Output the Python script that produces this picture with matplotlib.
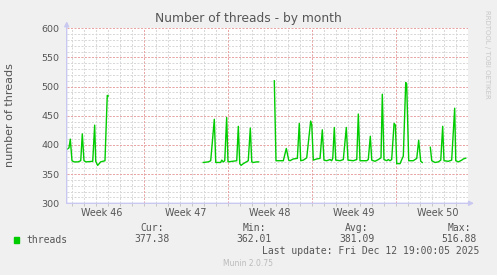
import numpy as np
import matplotlib.pyplot as plt
from matplotlib.ticker import MultipleLocator

title = "Number of threads - by month"
ylabel = "number of threads"
week_labels = ["Week 46", "Week 47", "Week 48", "Week 49", "Week 50"]
first_week = 6.44      # day of the first week boundary (from left edge)
span_days = 33.44

nan = np.nan
# days since left edge of the graph, nan breaks the line (no data)
days = [0.05, 0.19, 0.30, 0.44, 0.61, 0.94, 1.17, 1.30, 1.44, 1.61, 2.17, 2.33,
        2.42, 2.58, 2.83, 3.19, 3.38, 3.47, 3.5,
        11.38, 11.80, 12.00, 12.30, 12.42, 12.83, 12.92, 13.05, 13.17, 13.33,
        13.44, 14.17, 14.30, 14.42, 14.53, 14.72, 15.13, 15.30, 15.42, 15.55,
        15.83, 16.00, 16.1,
        17.30, 17.44, 18.05, 18.30, 18.50, 18.61, 18.88, 19.22, 19.38, 19.50,
        19.72, 19.86, 20.00, 20.33, 20.42, 20.55, 20.83, 21.11, 21.30, 21.44,
        21.67, 21.94, 22.08, 22.17, 22.30, 22.42, 22.78, 23.05, 23.30, 23.44,
        23.88, 24.17, 24.30, 24.44, 25.00, 25.13, 25.30, 25.42, 25.69, 25.97,
        26.19, 26.30, 26.44, 26.67, 26.80, 26.94, 27.08, 27.28, 27.39, 27.50,
        27.78, 27.92, 28.05, 28.25, 28.33, 28.50, 28.88, 29.17, 29.33, 29.50,
        29.63, 29.7,
        30.30, 30.42, 30.69, 30.97, 31.17, 31.33, 31.44, 31.80, 32.08, 32.33,
        32.42, 32.64, 32.92, 33.05, 33.25]
threads = [393, 395, 410, 373, 371, 371, 373, 419, 373, 371, 372, 434,
           372, 365, 371, 373, 485, 484, nan,
           370, 371, 373, 444, 370, 370, 374, 371, 373, 447,
           371, 373, 432, 368, 365, 368, 373, 429, 371, 370,
           371, 371, nan,
           510, 373, 373, 394, 374, 373, 376, 377, 437, 373,
           374, 376, 378, 441, 435, 374, 376, 377, 426, 374,
           373, 375, 373, 377, 430, 374, 373, 375, 430, 374,
           373, 375, 453, 373, 373, 375, 415, 374, 372, 375,
           378, 487, 375, 373, 375, 373, 375, 437, 434, 368,
           368, 375, 381, 507, 505, 373, 373, 377, 408, 372,
           370, nan,
           396, 373, 370, 371, 374, 432, 373, 372, 374, 463,
           373, 371, 374, 376, 377.4]

legend_name = "threads"
cur, vmin, avg, vmax = "377.38", "362.01", "381.09", "516.88"
last_update = "Last update: Fri Dec 12 19:00:05 2025"
version = "Munin 2.0.75"

W, H = 497, 275
fig = plt.figure(figsize=(W / 100, H / 100), dpi=100, facecolor="#f0f0f0")
ax = fig.add_axes([66.7 / W, 1 - 203.3 / H, 401.3 / W, 175 / H])
ax.set_facecolor("white")
for s in ax.spines.values():
    s.set_visible(False)

ax.set_xlim(0, span_days)
ax.set_ylim(300, 600)

# grid
minor_col = "#d8d8d8"
major_col = "#eaa4a4"
gls = (0, (2, 1.5))
for d in np.arange(first_week - 7, span_days, 1.0):
    if d > 0:
        ax.axvline(d, color=minor_col, lw=0.72, ls=gls, zorder=1)
for v in range(310, 600, 10):
    ax.axhline(v, color=minor_col, lw=0.72, ls=gls, zorder=1)
for d in np.arange(first_week, span_days, 7.0):
    ax.axvline(d, color=major_col, lw=0.72, ls=gls, zorder=2)
for v in range(350, 601, 50):
    ax.axhline(v, color=major_col, lw=0.72, ls=gls, zorder=2)

ax.plot(days, threads, color="#00cc00", lw=1.0, zorder=3)

# ticks
ax.yaxis.set_major_locator(MultipleLocator(50))
ax.tick_params(axis="y", length=0, pad=5, labelsize=6.8, labelcolor="#555555")
ax.set_xticks([first_week - 3.5 + 7 * i for i in range(len(week_labels))])
ax.set_xticklabels(week_labels)
ax.tick_params(axis="x", length=0, pad=3.5, labelsize=6.9, labelcolor="#555555")
ax.set_xticks(np.arange(first_week - 7, span_days, 1.0)[1:], minor=True)
ax.tick_params(axis="x", which="minor", length=2, color="#c0c0c0", width=0.6)

# axes with arrows
acol = "#c8c8f0"
ax.annotate("", xy=(0, 1 + 7 / 175), xytext=(0, 0), xycoords="axes fraction",
            arrowprops=dict(arrowstyle="-|>", color=acol, lw=1.0, mutation_scale=7,
                            shrinkA=0, shrinkB=0), annotation_clip=False)
ax.annotate("", xy=(1 + 6 / 401, 0), xytext=(0, 0), xycoords="axes fraction",
            arrowprops=dict(arrowstyle="-|>", color=acol, lw=1.0, mutation_scale=7,
                            shrinkA=0, shrinkB=0), annotation_clip=False)

def fx(x):
    return x / W

def fy(y):
    return 1 - y / H

fig.text(fx(248), fy(18.5), title, ha="center", va="center", fontsize=8.8,
         color="#555555")
fig.text(fx(10), fy(115), ylabel, ha="center", va="center", rotation=90,
         fontsize=8, color="#555555")
fig.text(fx(487.5), fy(54), "RRDTOOL / TOBI OETIKER", ha="center", va="center",
         rotation=270, fontsize=5, color="#c8c8c8")

mono = "DejaVu Sans Mono"
tcol = "#555555"
fig.patches.append(plt.Rectangle((fx(14), fy(242.7)), 5.3 / W, 6 / H,
                                 transform=fig.transFigure, color="#00cc00"))
fig.text(fx(26.7), fy(239.7), legend_name, va="center", family=mono, fontsize=7, color=tcol)
for hx, head, vx, val in [(140.7, "Cur:", 134.3, cur), (242.7, "Min:", 236.3, vmin),
                          (345, "Avg:", 339, avg), (447.3, "Max:", 441, vmax)]:
    fig.text(fx(hx), fy(228.3), head, va="center", family=mono, fontsize=7, color=tcol)
    fig.text(fx(vx), fy(239.5), val, va="center", family=mono, fontsize=7, color=tcol)
fig.text(fx(261.7), fy(251), last_update, va="center", family=mono, fontsize=7, color=tcol)
fig.text(fx(248), fy(264), version, ha="center", va="center", fontsize=5.5, color="#bbbbbb")

fig.savefig("out.png", dpi=100, facecolor=fig.get_facecolor())
